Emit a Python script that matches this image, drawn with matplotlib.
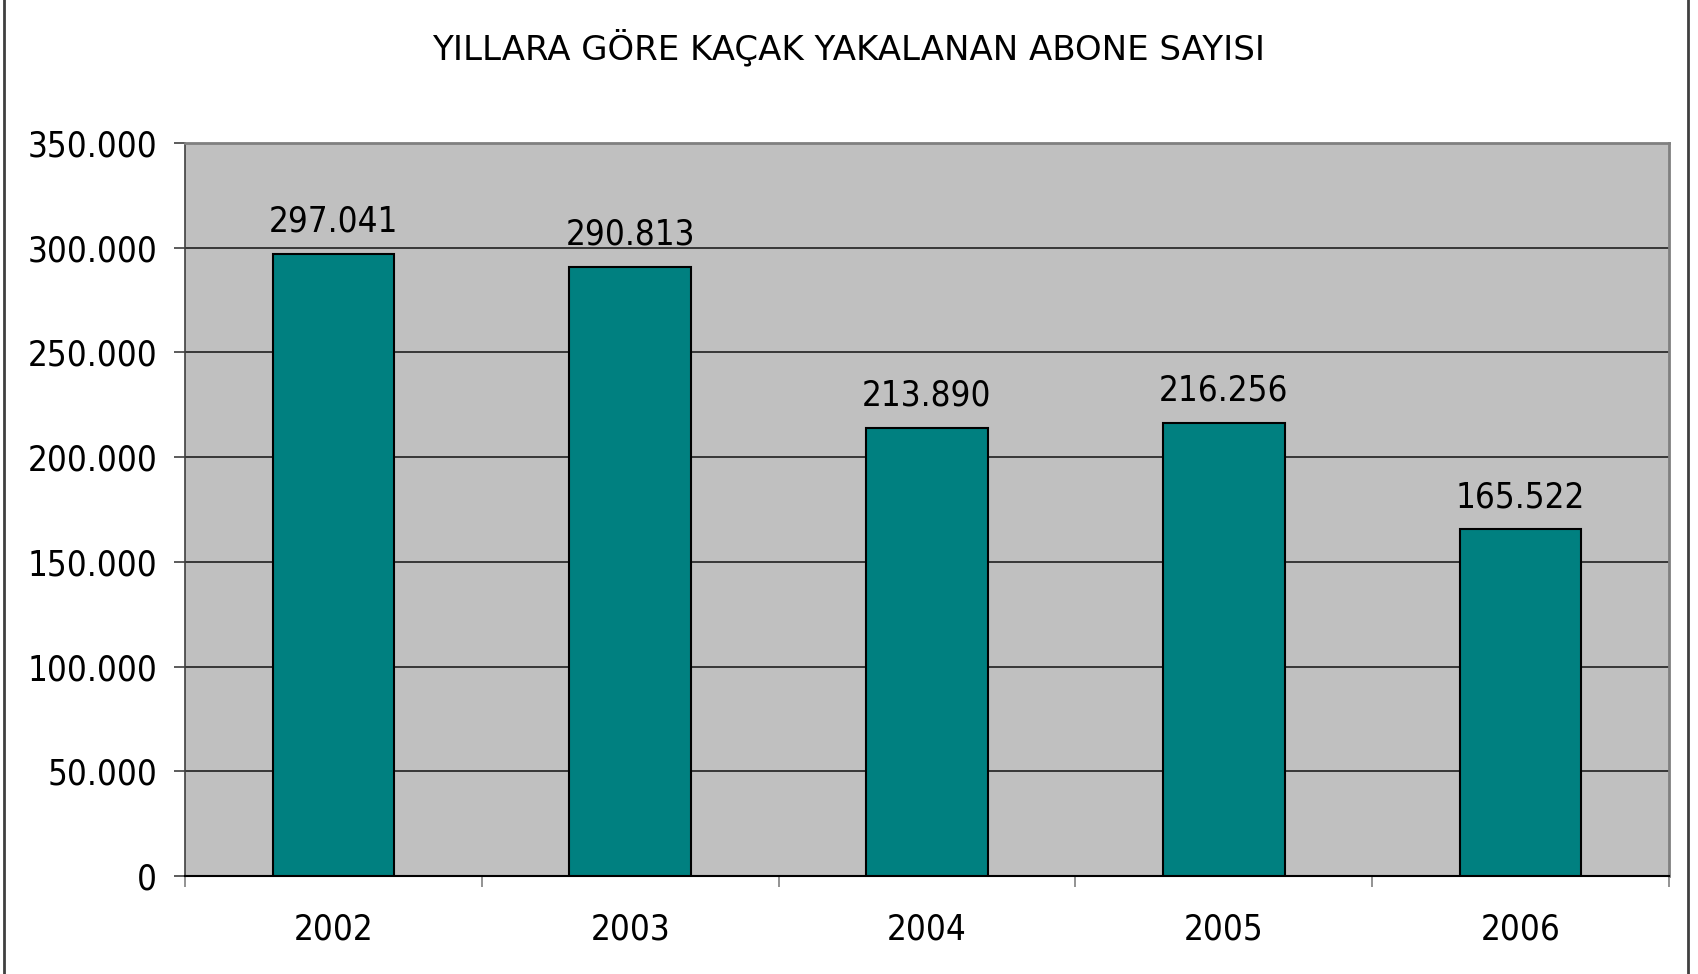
import numpy as np
import matplotlib
matplotlib.use('Agg')
import matplotlib.pyplot as plt
from matplotlib.lines import Line2D
from matplotlib.ticker import FuncFormatter

# data
years = ['2002', '2003', '2004', '2005', '2006']
values = [297041, 290813, 213890, 216256, 165522]
title = 'YILLARA GÖRE KAÇAK YAKALANAN ABONE SAYISI'


def dotted(v, pos=None):
    return f'{int(round(v)):,}'.replace(',', '.')


plt.rcParams['font.family'] = 'DejaVu Sans'
plt.rcParams['font.stretch'] = 'condensed'

fig = plt.figure(figsize=(16.98, 9.74), dpi=100)
ax = fig.add_axes([185/1698, 1 - 876/974, (1669-185)/1698, (876-143)/974])
ax.set_facecolor('#C0C0C0')

x = np.arange(len(years))
bars = ax.bar(x, values, width=0.41, color='#008080', edgecolor='black',
              linewidth=1.5, zorder=3)

for xi, v in zip(x, values):
    ax.annotate(dotted(v), (xi, v), xytext=(0, 11), textcoords='offset points',
                ha='center', va='bottom', fontsize=25)

ax.set_xlim(-0.5, len(years) - 0.5)
ax.set_ylim(0, 350000)
ax.set_yticks(np.arange(0, 350001, 50000))
ax.yaxis.set_major_formatter(FuncFormatter(dotted))
ax.grid(axis='y', color='#202020', linewidth=1.2, zorder=1)
ax.set_axisbelow(True)

ax.set_xticks(x)
ax.set_xticklabels(years)
ax.set_xticks(np.arange(-0.5, len(years)), minor=True)
ax.tick_params(axis='x', which='major', length=0, labelsize=25, pad=26)
ax.tick_params(axis='x', which='minor', length=8, width=1.2, color='#808080')
ax.tick_params(axis='y', length=8, width=1.2, color='#404040', labelsize=25, pad=12)

for side in ['top', 'right']:
    ax.spines[side].set_color('#808080')
    ax.spines[side].set_linewidth(2)
ax.spines['left'].set_color('#404040')
ax.spines['left'].set_linewidth(1.2)
ax.spines['bottom'].set_color('black')
ax.spines['bottom'].set_linewidth(1.5)

fig.text(0.5, 1 - 48/974, title, ha='center', va='center', fontsize=24.5,
         fontstretch='normal')

# outer chart frame
fig.add_artist(Line2D([4/1698, 4/1698], [0, 1], color='#404040', linewidth=2))
fig.add_artist(Line2D([1688/1698, 1688/1698], [0, 1], color='#404040', linewidth=2))

fig.savefig('out.png', dpi=100)
